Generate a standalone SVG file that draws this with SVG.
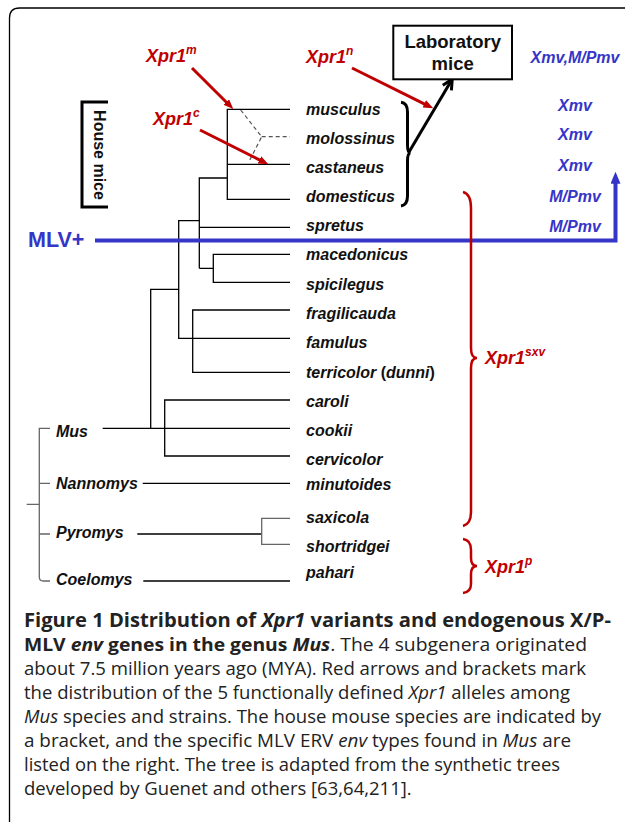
<svg xmlns="http://www.w3.org/2000/svg" width="625" height="822" viewBox="0 0 625 822">
<defs>
<style>
.sp{font-family:"Liberation Sans",Arial,sans-serif;font-size:16px;font-weight:bold;font-style:italic;fill:#111}
.red{font-family:"Liberation Sans",Arial,sans-serif;font-size:18px;font-weight:bold;font-style:italic;fill:#c00000}
.blue{font-family:"Liberation Sans",Arial,sans-serif;font-size:16px;font-weight:bold;font-style:italic;fill:#3535c8;text-anchor:middle}
.tr{stroke:#000;stroke-width:1.3;fill:none}
.gr{stroke:#666;stroke-width:1.3;fill:none}
.dash{stroke:#555;stroke-width:1.2;fill:none;stroke-dasharray:4,3}
.ra{stroke:#c00000;stroke-width:3;fill:none;marker-end:url(#mr)}
.lab{font-family:"Liberation Sans",Arial,sans-serif;font-size:18.5px;font-weight:bold;fill:#111;text-anchor:middle}
.cap{font-family:"Open Sans","DejaVu Sans",sans-serif;font-size:18.5px;fill:#222}
</style>
<marker id="mr" viewBox="0 0 10 8" refX="1" refY="4" markerWidth="10" markerHeight="8" markerUnits="userSpaceOnUse" orient="auto"><path d="M0,0 L10,4 L0,8 z" fill="#c00000"/></marker>
<marker id="mb" viewBox="0 0 12 10" refX="1" refY="5" markerWidth="12" markerHeight="10" markerUnits="userSpaceOnUse" orient="auto"><path d="M0,0 L12,5 L0,10 z" fill="#3535c8"/></marker>
<marker id="mk" viewBox="-3 -3 16 16" refX="9" refY="5" markerWidth="16" markerHeight="16" markerUnits="userSpaceOnUse" orient="auto" overflow="visible"><path d="M0,0 L10,5 L0,10" fill="none" stroke="#000" stroke-width="3"/></marker>
</defs>
<rect width="625" height="822" fill="#fff"/>
<path d="M9.5,822 L9.5,18 Q9.5,8 19.5,8 L625,8" fill="none" stroke="#000" stroke-width="1.3"/>

<g id="connectors">
<path class="tr" d="M290,109.3 H227.3 V199.3 H290 M227.3,164.3 H290 M227.3,178 H199.3 V268.3 M199.3,227.3 H290 M199.3,268.3 H213.3 M290,254.3 H213.3 V282.3 H290"/>
<path class="tr" d="M199.3,220.7 H178.7 V338.3 H290 M178.7,289.3 H150.7 V428.3 M290,310 H192.7 V372.3 H290"/>
<path class="tr" d="M290,400 H164.7 V456 H290 M102.7,428.3 H290 M142.7,483.3 H290 M137.3,534 H261.7 M143.3,581 H290"/>
<path class="gr" d="M290,518.3 H261.7 V544.3 H290"/>
<path class="gr" d="M26.7,504.3 H39.3 M50,428.3 H39.3 V577 Q39.3,581 43.3,581 H50 M39.3,483.3 H50 M39.3,534 H50"/>
<path class="dash" d="M240.7,110 L261.7,136.7 L249.3,161 M261.7,136.7 H290"/>
<path class="ra" d="M192,68 L226.9,102.7"/>
<path class="ra" d="M200,130 L260.3,160.3"/>
<path class="ra" d="M352,68 L425.2,104.3"/>
<path d="M95,240.5 H615.5 V182.7" fill="none" stroke="#3535c8" stroke-width="4" marker-end="url(#mb)"/>
<path d="M409,152 L451.7,80" fill="none" stroke="#000" stroke-width="3" marker-end="url(#mk)"/>
<path d="M401,102.3 Q407.5,103 407.5,112 V145 Q407.5,153 410.5,153 Q407.5,153 407.5,161 V196 Q407.5,205 401,206" fill="none" stroke="#000" stroke-width="3"/>
<path d="M463,192 Q471,194 471,208 V348 Q471,358 477,358 Q471,358 471,368 V512 Q471,524 463,526" fill="none" stroke="#c00000" stroke-width="2.5"/>
<path d="M463,539 Q471,540 471,550 V558 Q471,566 477,566 Q471,566 471,574 V584 Q471,592 463,593" fill="none" stroke="#c00000" stroke-width="2.5"/>
<path d="M108,102 H82 V207 H108" fill="none" stroke="#000" stroke-width="3"/>
</g>

<g id="house-mice"><text transform="translate(93.5,155) rotate(90)" text-anchor="middle" style="font-family:'Liberation Sans',Arial,sans-serif;font-size:16px;font-weight:bold;fill:#111">House mice</text></g>
<g id="lab-mice"><rect x="393.3" y="25.7" width="118.7" height="53.6" fill="#fff" stroke="#000" stroke-width="2"/>
<text class="lab" x="452.7" y="48.3">Laboratory</text>
<text class="lab" x="452.7" y="69.5">mice</text></g>
<g id="mlv"><text x="28" y="246.7" style="font-family:'Liberation Sans',Arial,sans-serif;font-size:21.5px;font-weight:bold;fill:#3535c8">MLV+</text></g>

<g id="xpr1m"><text class="red" x="146" y="62">Xpr1<tspan font-size="12" dy="-8">m</tspan></text></g>
<g id="xpr1c"><text class="red" x="153" y="125">Xpr1<tspan font-size="12" dy="-8">c</tspan></text></g>
<g id="xpr1n"><text class="red" x="306" y="63">Xpr1<tspan font-size="12" dy="-8">n</tspan></text></g>
<g id="xpr1sxv"><text class="red" x="485" y="364">Xpr1<tspan font-size="12" dy="-8">sxv</tspan></text></g>
<g id="xpr1p"><text class="red" x="485" y="573">Xpr1<tspan font-size="12" dy="-8">p</tspan></text></g>

<g id="sp-musculus"><text class="sp" x="306" y="115">musculus</text></g>
<g id="sp-molossinus"><text class="sp" x="306" y="144">molossinus</text></g>
<g id="sp-castaneus"><text class="sp" x="306" y="172.7">castaneus</text></g>
<g id="sp-domesticus"><text class="sp" x="306" y="202">domesticus</text></g>
<g id="sp-spretus"><text class="sp" x="306" y="231">spretus</text></g>
<g id="sp-macedonicus"><text class="sp" x="306" y="260">macedonicus</text></g>
<g id="sp-spicilegus"><text class="sp" x="306" y="290">spicilegus</text></g>
<g id="sp-fragilicauda"><text class="sp" x="306" y="319">fragilicauda</text></g>
<g id="sp-famulus"><text class="sp" x="306" y="348">famulus</text></g>
<g id="sp-terricolor"><text class="sp" x="306" y="378">terricolor <tspan font-style="normal">(</tspan>dunni<tspan font-style="normal">)</tspan></text></g>
<g id="sp-caroli"><text class="sp" x="306" y="407">caroli</text></g>
<g id="sp-cookii"><text class="sp" x="306" y="436">cookii</text></g>
<g id="sp-cervicolor"><text class="sp" x="306" y="465">cervicolor</text></g>
<g id="sp-minutoides"><text class="sp" x="306" y="490">minutoides</text></g>
<g id="sp-saxicola"><text class="sp" x="306" y="523">saxicola</text></g>
<g id="sp-shortridgei"><text class="sp" x="306" y="552">shortridgei</text></g>
<g id="sp-pahari"><text class="sp" x="306" y="578">pahari</text></g>

<g id="sg-mus"><text class="sp" x="56" y="437">Mus</text></g>
<g id="sg-nannomys"><text class="sp" x="56" y="489">Nannomys</text></g>
<g id="sg-pyromys"><text class="sp" x="56" y="538">Pyromys</text></g>
<g id="sg-coelomys"><text class="sp" x="56" y="585">Coelomys</text></g>

<g id="env-types">
<text class="blue" x="575" y="63.3">Xmv,M/Pmv</text>
<text class="blue" x="575" y="111">Xmv</text>
<text class="blue" x="575" y="140">Xmv</text>
<text class="blue" x="575" y="171">Xmv</text>
<text class="blue" x="575" y="201.7">M/Pmv</text>
<text class="blue" x="575" y="231.7">M/Pmv</text>
</g>

<g id="caption" class="cap">
<text x="24" y="626.5" font-weight="bold" font-size="19" textLength="587" lengthAdjust="spacingAndGlyphs">Figure 1 Distribution of <tspan font-style="italic">Xpr1</tspan> variants and endogenous X/P-</text>
<text x="24" y="650.5" textLength="563" lengthAdjust="spacingAndGlyphs"><tspan font-weight="bold">MLV <tspan font-style="italic">env</tspan> genes in the genus <tspan font-style="italic">Mus</tspan></tspan>. The 4 subgenera originated</text>
<text x="24" y="674.5" textLength="562" lengthAdjust="spacingAndGlyphs">about 7.5 million years ago (MYA). Red arrows and brackets mark</text>
<text x="24" y="698.5" textLength="546" lengthAdjust="spacingAndGlyphs">the distribution of the 5 functionally defined <tspan font-style="italic">Xpr1</tspan> alleles among</text>
<text x="24" y="722.5" textLength="577" lengthAdjust="spacingAndGlyphs"><tspan font-style="italic">Mus</tspan> species and strains. The house mouse species are indicated by</text>
<text x="24" y="746.5" textLength="547" lengthAdjust="spacingAndGlyphs">a bracket, and the specific MLV ERV <tspan font-style="italic">env</tspan> types found in <tspan font-style="italic">Mus</tspan> are</text>
<text x="24" y="770.5" textLength="536" lengthAdjust="spacingAndGlyphs">listed on the right. The tree is adapted from the synthetic trees</text>
<text x="24" y="794.5">developed by Guenet and others [63,64,211].</text>
</g>
</svg>
